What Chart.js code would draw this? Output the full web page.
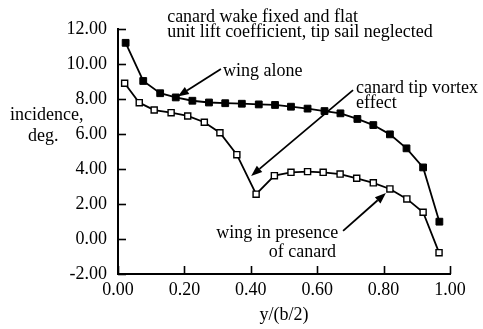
<!DOCTYPE html>
<html><head><meta charset="utf-8">
<script src="https://cdn.jsdelivr.net/npm/chart.js@4/dist/chart.umd.min.js"></script>
<style>html,body{margin:0;padding:0;background:#fff;}#wrap{width:483px;height:329px;position:relative;}</style>
</head><body><div id="wrap"><canvas id="c"></canvas></div>
<script>
// ---- data ----
const xWingAlone   = [0.023,0.076,0.127,0.174,0.224,0.274,0.323,0.373,0.424,0.473,0.521,0.571,0.622,0.670,0.721,0.769,0.819,0.869,0.919,0.968];
const yWingAlone   = [11.21,9.03,8.33,8.09,7.90,7.80,7.76,7.73,7.69,7.66,7.56,7.45,7.31,7.18,6.86,6.51,5.98,5.18,4.09,0.99];
const xWithCanard  = [0.020,0.064,0.109,0.160,0.210,0.260,0.307,0.358,0.416,0.471,0.521,0.571,0.618,0.669,0.719,0.769,0.819,0.870,0.919,0.967];
const yWithCanard  = [8.90,7.79,7.37,7.22,7.03,6.67,6.07,4.82,2.56,3.62,3.81,3.85,3.81,3.71,3.47,3.21,2.86,2.29,1.53,-0.78];
const xTickValues  = [0,0.2,0.4,0.6,0.8,1.0];
const yTickValues  = [-2,0,2,4,6,8,10,12];
const titleLines   = ['canard wake fixed and flat','unit lift coefficient, tip sail neglected'];
const xAxisTitle   = 'y/(b/2)';
const yAxisTitle   = ['incidence,','deg.'];
const labelAlone   = 'wing alone';
const labelVortex  = ['canard tip vortex','effect'];
const labelCanard  = ['wing in presence','of canard'];

const FONT = '18px "Liberation Serif", "Times New Roman", serif';
const toPts = (xs, ys) => xs.map((x,i)=>({x:x, y:ys[i]}));

function arrow(ctx, x1, y1, x2, y2){
  const ang = Math.atan2(y2-y1, x2-x1), L = 11, W = 4.2;
  const bx = x2 - L*Math.cos(ang), by = y2 - L*Math.sin(ang);
  ctx.beginPath(); ctx.moveTo(x1,y1); ctx.lineTo(bx,by); ctx.stroke();
  ctx.beginPath();
  ctx.moveTo(x2,y2);
  ctx.lineTo(bx + W*Math.sin(ang), by - W*Math.cos(ang));
  ctx.lineTo(bx - W*Math.sin(ang), by + W*Math.cos(ang));
  ctx.closePath(); ctx.fill();
}

const decor = {
  id:'decor',
  afterDraw(chart){
    const ctx = chart.ctx, xs = chart.scales.x, ys = chart.scales.y;
    const X = v => xs.getPixelForValue(v), Y = v => ys.getPixelForValue(v);
    ctx.save();
    ctx.strokeStyle = '#000'; ctx.fillStyle = '#000';
    // inward tick marks
    ctx.lineWidth = 1.6;
    const left = chart.chartArea.left, bottom = chart.chartArea.bottom;
    yTickValues.forEach(v=>{ const p=Math.round(Y(v))+0.5; ctx.beginPath(); ctx.moveTo(left,p); ctx.lineTo(left+8,p); ctx.stroke(); });
    xTickValues.forEach(v=>{ const p=Math.round(X(v))+0.5; ctx.beginPath(); ctx.moveTo(p,bottom); ctx.lineTo(p,bottom-8); ctx.stroke(); });
    // texts
    ctx.font = FONT; ctx.textBaseline = 'middle'; ctx.textAlign = 'left';
    ctx.fillText(titleLines[0], X(0.148), Y(12.69));
    ctx.fillText(titleLines[1], X(0.148), Y(11.83));
    ctx.fillText(yAxisTitle[0], X(-0.325), Y(7.09));
    ctx.fillText(yAxisTitle[1], X(-0.271), Y(5.89));
    ctx.fillText(labelAlone, X(0.316), Y(9.60));
    ctx.fillText(labelVortex[0], X(0.717), Y(8.63));
    ctx.fillText(labelVortex[1], X(0.717), Y(7.77));
    ctx.textAlign = 'right';
    ctx.fillText(labelCanard[0], X(0.663), Y(0.34));
    ctx.fillText(labelCanard[1], X(0.657), Y(-0.74));
    // arrows
    ctx.lineWidth = 1.8;
    arrow(ctx, X(0.310), Y(9.71), X(xWingAlone[3])+2, Y(yWingAlone[3])-1);
    arrow(ctx, X(0.708), Y(8.51), X(0.401), Y(3.60));
    arrow(ctx, X(0.678), Y(0.46), X(0.807), Y(2.63));
    ctx.restore();
  }
};

new Chart(document.getElementById('c'), {
  type:'scatter',
  data:{ datasets:[
    { label:'wing alone', data:toPts(xWingAlone,yWingAlone), showLine:true,
      borderColor:'#000', borderWidth:1.8, pointStyle:'rect', pointRadius:4.8,
      pointBackgroundColor:'#000', pointBorderColor:'#000', pointBorderWidth:1 },
    { label:'wing in presence of canard', data:toPts(xWithCanard,yWithCanard), showLine:true,
      borderColor:'#000', borderWidth:1.8, pointStyle:'rect', pointRadius:4.3,
      pointBackgroundColor:'#fff', pointBorderColor:'#000', pointBorderWidth:1.4 }
  ]},
  options:{
    responsive:true, maintainAspectRatio:false, animation:false,
    layout:{ padding:{ left:0, top:29, right:33, bottom:0 } },
    plugins:{ legend:{display:false}, tooltip:{enabled:false} },
    scales:{
      x:{ type:'linear', min:0, max:1,
          afterBuildTicks: s => { s.ticks = xTickValues.map(v=>({value:v})); },
          afterFit: s => { s.height = 55; },
          ticks:{ color:'#000', font:{family:'"Liberation Serif"', size:18}, padding:5, maxRotation:0,
                  callback: v => Number(v).toFixed(2) },
          grid:{ display:true, drawOnChartArea:false, drawTicks:false },
          border:{ display:true, color:'#000', width:2 },
          title:{ display:true, text:xAxisTitle, color:'#000', font:{family:'"Liberation Serif"', size:18}, padding:{top:0,bottom:3} } },
      y:{ type:'linear', min:-2, max:12,
          afterBuildTicks: s => { s.ticks = yTickValues.map(v=>({value:v})); },
          afterFit: s => { s.width = 118; },
          ticks:{ color:'#000', font:{family:'"Liberation Serif"', size:18}, padding:11,
                  callback: v => Number(v).toFixed(2) },
          grid:{ display:true, drawOnChartArea:false, drawTicks:false },
          border:{ display:true, color:'#000', width:2 } }
    }
  },
  plugins:[decor]
});
</script></body></html>
